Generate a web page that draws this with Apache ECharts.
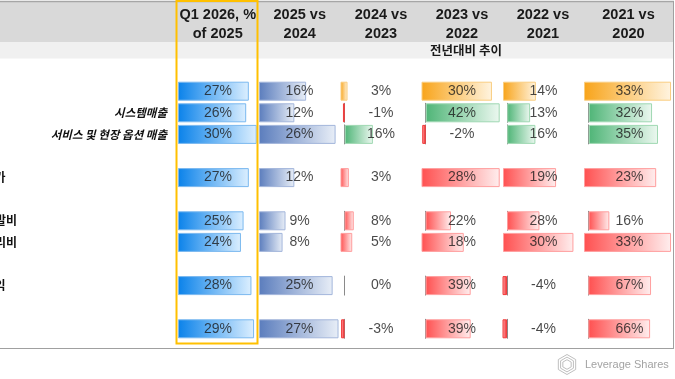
<!DOCTYPE html>
<html><head><meta charset="utf-8">
<script src="https://cdn.jsdelivr.net/npm/echarts@6/dist/echarts.min.js"></script>
<style>html,body{margin:0;padding:0;background:#fff}#c{width:675px;height:379px}</style>
</head><body><div id="c"></div>
<script>
// ---------------- data ----------------
const rowLabels = ['', '시스템매출', '서비스 및 현장 옵션 매출', '가', '발비', '리비', '익', ''];
const columnHeaders = [['Q1 2026, %', 'of 2025'], ['2025 vs', '2024'], ['2024 vs', '2023'], ['2023 vs', '2022'], ['2022 vs', '2021'], ['2021 vs', '2020']];
const groupTitle = '전년대비 추이';
const q1Of2025 = [27, 26, 30, 27, 25, 24, 28, 29];
const yoy2025 = [16, 12, 26, 12, 9, 8, 25, 27];
const yoy2024 = [3, -1, 16, 3, 8, 5, 0, -3];
const yoy2023 = [30, 42, -2, 28, 22, 18, 39, 39];
const yoy2022 = [14, 13, 16, 19, 28, 30, -4, -4];
const yoy2021 = [33, 32, 35, 23, 16, 33, 67, 66];
const columns = [q1Of2025, yoy2025, yoy2024, yoy2023, yoy2022, yoy2021];

// ---------------- layout / style ----------------
const colLeft = [176.5, 258.5, 340, 421, 502, 583];
const colRight = [258, 340, 421, 502, 583, 674];
const barLeft = [178, 259, 340.5, 421.5, 503, 584];
const barSpan = [80, 81, 81, 81, 81, 91];
const rowSlot = [0, 1, 2, 4, 6, 7, 9, 11];
const firstRowY = 91.2, slotH = 21.6, barH = 19;
// data-bar axis ranges (like the spreadsheet's data-bar rules)
const colScale = [[0, 30.5], [0, 27.5]];
const yoyRowScale = [[0, 34.5], [-2.4, 43.6], [-2.4, 43.6], [0, 29], [-3.5, 66.5], [0, 34.5], [-3.5, 66.5], [-3.5, 66.5]];
const scaleOverride = {'6-5': [-4.6, 92.6], '7-5': [-4.6, 92.6]};
const pal = {
  blue:   ['#0a82ea', '#dcefff', '#7ab8ef'],
  steel:  ['#5b7dbd', '#e8eef7', '#a3b6db'],
  orange: ['#f8a41a', '#fff4e0', '#f9cd80'],
  green:  ['#4fb577', '#ecf8f0', '#9fd8b2'],
  red:    ['#ff5050', '#ffeeee', '#ff9e9e']
};
const rowPalette = ['orange', 'green', 'green', 'red', 'red', 'red', 'red', 'red'];
function cellPalette(c, r) { return c === 0 ? 'blue' : (c === 1 ? 'steel' : rowPalette[r]); }
const numFont = '"Liberation Sans", Arial, sans-serif';
const krFont = '"Noto Sans CJK KR", sans-serif';

const grids = [], xAxes = [], yAxes = [], series = [];
let gi = 0;
columns.forEach((vals, c) => {
  vals.forEach((v, r) => {
    const sc = c < 2 ? colScale[c] : (scaleOverride[r + '-' + c] || yoyRowScale[r]);
    const yc = firstRowY + slotH * rowSlot[r];
    const hasAxis = sc[0] < 0;
    grids.push({left: barLeft[c], top: yc - barH / 2, width: barSpan[c], height: barH, containLabel: false});
    xAxes.push({type: 'value', gridIndex: gi, min: sc[0], max: sc[1], show: false});
    yAxes.push({type: 'category', gridIndex: gi, data: [rowLabels[r] || ' '], show: hasAxis,
      axisLine: {show: hasAxis, onZero: true, lineStyle: {color: '#8a8a8a', width: 1}},
      axisTick: {show: false}, axisLabel: {show: false}, splitLine: {show: false}});
    const p = pal[cellPalette(c, r)];
    let style;
    if (v < 0) {
      style = {color: new echarts.graphic.LinearGradient(0, 0, 1, 0, [{offset: 0, color: '#ffb8b8'}, {offset: 1, color: '#f01e24'}]),
        borderColor: '#f23a3a', borderWidth: 1};
    } else {
      style = {color: new echarts.graphic.LinearGradient(0, 0, 1, 0, [{offset: 0, color: p[0]}, {offset: 1, color: p[1]}]),
        borderColor: p[2], borderWidth: v === 0 ? 0 : 1};
    }
    series.push({type: 'bar', xAxisIndex: gi, yAxisIndex: gi, barWidth: barH, silent: true, animation: false,
      data: [{value: v, itemStyle: style}], z: 2});
    series.push({type: 'scatter', xAxisIndex: gi, yAxisIndex: gi, symbolSize: 1, silent: true, animation: false,
      itemStyle: {color: 'rgba(0,0,0,0)'},
      data: [[(sc[0] + sc[1]) / 2, 0]],
      label: {show: true, position: 'inside', formatter: () => v + '%', color: '#1a1a1a', fontSize: 14, fontFamily: numFont},
      z: 5});
    gi++;
  });
});

// ---------------- graphics: table frame, headers, labels ----------------
const gfx = [];
gfx.push({type: 'rect', z: 0, shape: {x: 0, y: 2, width: 674, height: 40}, style: {fill: '#d9d9d9'}});
gfx.push({type: 'rect', z: 0, shape: {x: 0, y: 42, width: 674, height: 16.5}, style: {fill: '#f0f0f0'}});
gfx.push({type: 'line', z: 1, shape: {x1: 0, y1: 1.5, x2: 674, y2: 1.5}, style: {stroke: '#a6a6a6', lineWidth: 1.5}});
gfx.push({type: 'line', z: 1, shape: {x1: 0, y1: 348.5, x2: 674, y2: 348.5}, style: {stroke: '#a0a0a0', lineWidth: 1}});
gfx.push({type: 'line', z: 1, shape: {x1: 673.5, y1: 1, x2: 673.5, y2: 348.5}, style: {stroke: '#a0a0a0', lineWidth: 1}});
columnHeaders.forEach((h, c) => {
  const cx = (colLeft[c] + colRight[c]) / 2 + (c === 5 ? 0 : 0.5);
  h.forEach((t, k) => {
    gfx.push({type: 'text', z: 3, x: cx, y: 14.5 + 19 * k,
      style: {text: t, textAlign: 'center', textVerticalAlign: 'middle', fill: '#1a1a1a', font: 'bold 14.5px ' + numFont}});
  });
});
gfx.push({type: 'text', z: 3, x: 466, y: 50.5,
  style: {text: groupTitle, textAlign: 'center', textVerticalAlign: 'middle', fill: '#1a1a1a', font: 'bold 12.5px ' + krFont}});
// row labels
const labelRight = [168, 167, 167, 5.5, 17, 17, 5.5, 17];
rowLabels.forEach((t, r) => {
  if (!t) return;
  const italic = r === 1 || r === 2;
  gfx.push({type: 'text', z: 3, x: labelRight[r], y: firstRowY + slotH * rowSlot[r],
    style: {text: t, textAlign: 'right', textVerticalAlign: 'middle', fill: '#111',
      font: (italic ? 'italic bold 11.5px ' : 'bold 12px ') + krFont}});
});
// highlight box
gfx.push({type: 'rect', z: 100, shape: {x: 176.5, y: 1, width: 81, height: 342.5},
  style: {fill: 'none', stroke: '#ffc000', lineWidth: 2}});
// watermark
gfx.push({type: 'text', z: 3, x: 585, y: 364.5,
  style: {text: 'Leverage Shares', textAlign: 'left', textVerticalAlign: 'middle', fill: '#a3a3a3', font: '11px ' + numFont}});
const ic = [567, 364.5];
for (let k = 0; k < 3; k++) {
  const a = k * Math.PI * 2 / 3;
  for (let j = 0; j < 3; j++) {
    const r = 10 - j * 2.6;
    const pts = [];
    for (let s = 0; s < 3; s++) {
      const ang = a + s * Math.PI / 3 - Math.PI / 2;
      pts.push([ic[0] + r * Math.cos(ang), ic[1] + r * Math.sin(ang)]);
    }
    gfx.push({type: 'polyline', z: 3, shape: {points: pts}, style: {stroke: '#b8b8b8', lineWidth: 0.9, fill: 'none'}});
  }
}

const chart = echarts.init(document.getElementById('c'), null, {renderer: 'canvas'});
chart.setOption({
  animation: false,
  backgroundColor: '#ffffff',
  grid: grids, xAxis: xAxes, yAxis: yAxes, series: series,
  graphic: {elements: gfx}
});
</script></body></html>
